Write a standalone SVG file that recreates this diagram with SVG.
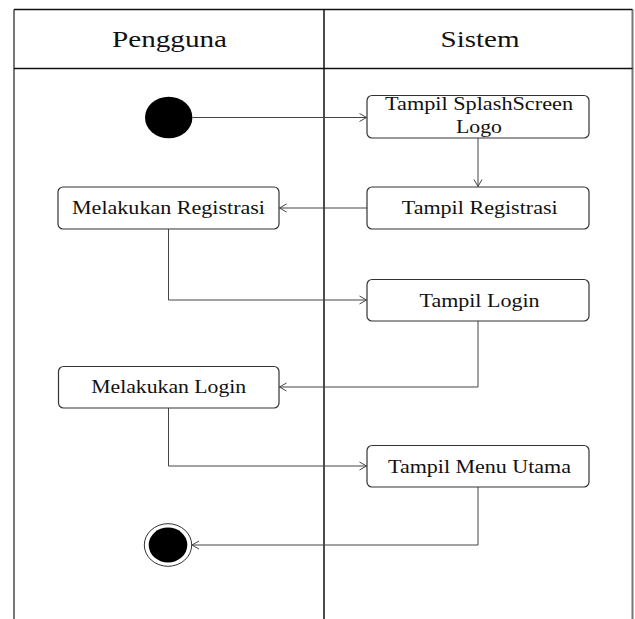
<svg xmlns="http://www.w3.org/2000/svg" width="635" height="619" viewBox="0 0 635 619">
  <style>
    .lane-edge { stroke: #777; stroke-width: 2; fill: none; }
    .lane-line { stroke: #111; stroke-width: 1.5; fill: none; }
    .box { fill: #fff; stroke: #333; stroke-width: 1.2; }
    .hdr { font-family: "Liberation Serif", "Times New Roman", serif; font-size: 24px; fill: #111; text-anchor: middle; }
    .lbl { font-family: "Liberation Serif", "Times New Roman", serif; font-size: 19px; fill: #111; text-anchor: middle; }
    .flow { stroke: #444; stroke-width: 1; fill: none; }
  </style>
  <defs>
    <marker id="open-arrow" markerWidth="10" markerHeight="10" refX="8" refY="5" orient="auto" markerUnits="userSpaceOnUse">
      <path d="M1,1 L8,5 L1,9" fill="none" stroke="#444" stroke-width="1"/>
    </marker>
  </defs>

  <rect width="635" height="619" fill="#fff"/>

  <!-- swimlane frame -->
  <g id="lanes">
    <line class="lane-edge" x1="14" y1="9.5" x2="14" y2="619"/>
    <line class="lane-edge" x1="632.5" y1="9.5" x2="632.5" y2="619"/>
    <line class="lane-line" x1="14" y1="9.5" x2="632.5" y2="9.5"/>
    <line class="lane-line" x1="14" y1="68.5" x2="632.5" y2="68.5"/>
    <line class="lane-line" x1="324" y1="9.5" x2="324" y2="619"/>
    <text class="hdr" x="169.5" y="47" textLength="115" lengthAdjust="spacingAndGlyphs">Pengguna</text>
    <text class="hdr" x="480" y="47" textLength="79" lengthAdjust="spacingAndGlyphs">Sistem</text>
  </g>

  <!-- control flow -->
  <g id="connectors">
    <line class="flow" x1="192.5" y1="117.5" x2="366.5" y2="117.5" marker-end="url(#open-arrow)"/>
    <line class="flow" x1="478" y1="138" x2="478" y2="186.5" marker-end="url(#open-arrow)"/>
    <line class="flow" x1="367" y1="208" x2="279.5" y2="208" marker-end="url(#open-arrow)"/>
    <polyline class="flow" points="168.5,229 168.5,300 366.5,300" marker-end="url(#open-arrow)"/>
    <polyline class="flow" points="478,321 478,387 279.5,387" marker-end="url(#open-arrow)"/>
    <polyline class="flow" points="168.5,408 168.5,466 366.5,466" marker-end="url(#open-arrow)"/>
    <polyline class="flow" points="478,487 478,545 192,545" marker-end="url(#open-arrow)"/>
  </g>

  <g id="start">
    <ellipse cx="168.7" cy="117.5" rx="23.7" ry="20.8" fill="#000"/>
  </g>

  <g id="tampil-splashscreen">
    <rect class="box" x="367" y="95.5" width="222" height="42.5" rx="5"/>
    <text class="lbl" x="479" y="110" textLength="188" lengthAdjust="spacingAndGlyphs">Tampil SplashScreen</text>
    <text class="lbl" x="479" y="133" textLength="46" lengthAdjust="spacingAndGlyphs">Logo</text>
  </g>

  <g id="tampil-registrasi">
    <rect class="box" x="367" y="187" width="222" height="42" rx="5"/>
    <text class="lbl" x="479.7" y="213.5" textLength="156" lengthAdjust="spacingAndGlyphs">Tampil Registrasi</text>
  </g>

  <g id="melakukan-registrasi">
    <rect class="box" x="58" y="187" width="221" height="42" rx="5"/>
    <text class="lbl" x="168.5" y="214" textLength="193" lengthAdjust="spacingAndGlyphs">Melakukan Registrasi</text>
  </g>

  <g id="tampil-login">
    <rect class="box" x="367" y="279.5" width="222" height="41.5" rx="5"/>
    <text class="lbl" x="479.5" y="306.5" textLength="120" lengthAdjust="spacingAndGlyphs">Tampil Login</text>
  </g>

  <g id="melakukan-login">
    <rect class="box" x="58.5" y="366.5" width="220.5" height="41.5" rx="5"/>
    <text class="lbl" x="168.7" y="392.5" textLength="155" lengthAdjust="spacingAndGlyphs">Melakukan Login</text>
  </g>

  <g id="tampil-menu-utama">
    <rect class="box" x="367" y="445.5" width="222" height="41.5" rx="5"/>
    <text class="lbl" x="479.5" y="473" textLength="183" lengthAdjust="spacingAndGlyphs">Tampil Menu Utama</text>
  </g>

  <g id="end">
    <ellipse cx="168" cy="545" rx="23.7" ry="21.3" fill="#fff" stroke="#333" stroke-width="1"/>
    <ellipse cx="168" cy="545" rx="19.3" ry="17.5" fill="#000"/>
  </g>
</svg>
